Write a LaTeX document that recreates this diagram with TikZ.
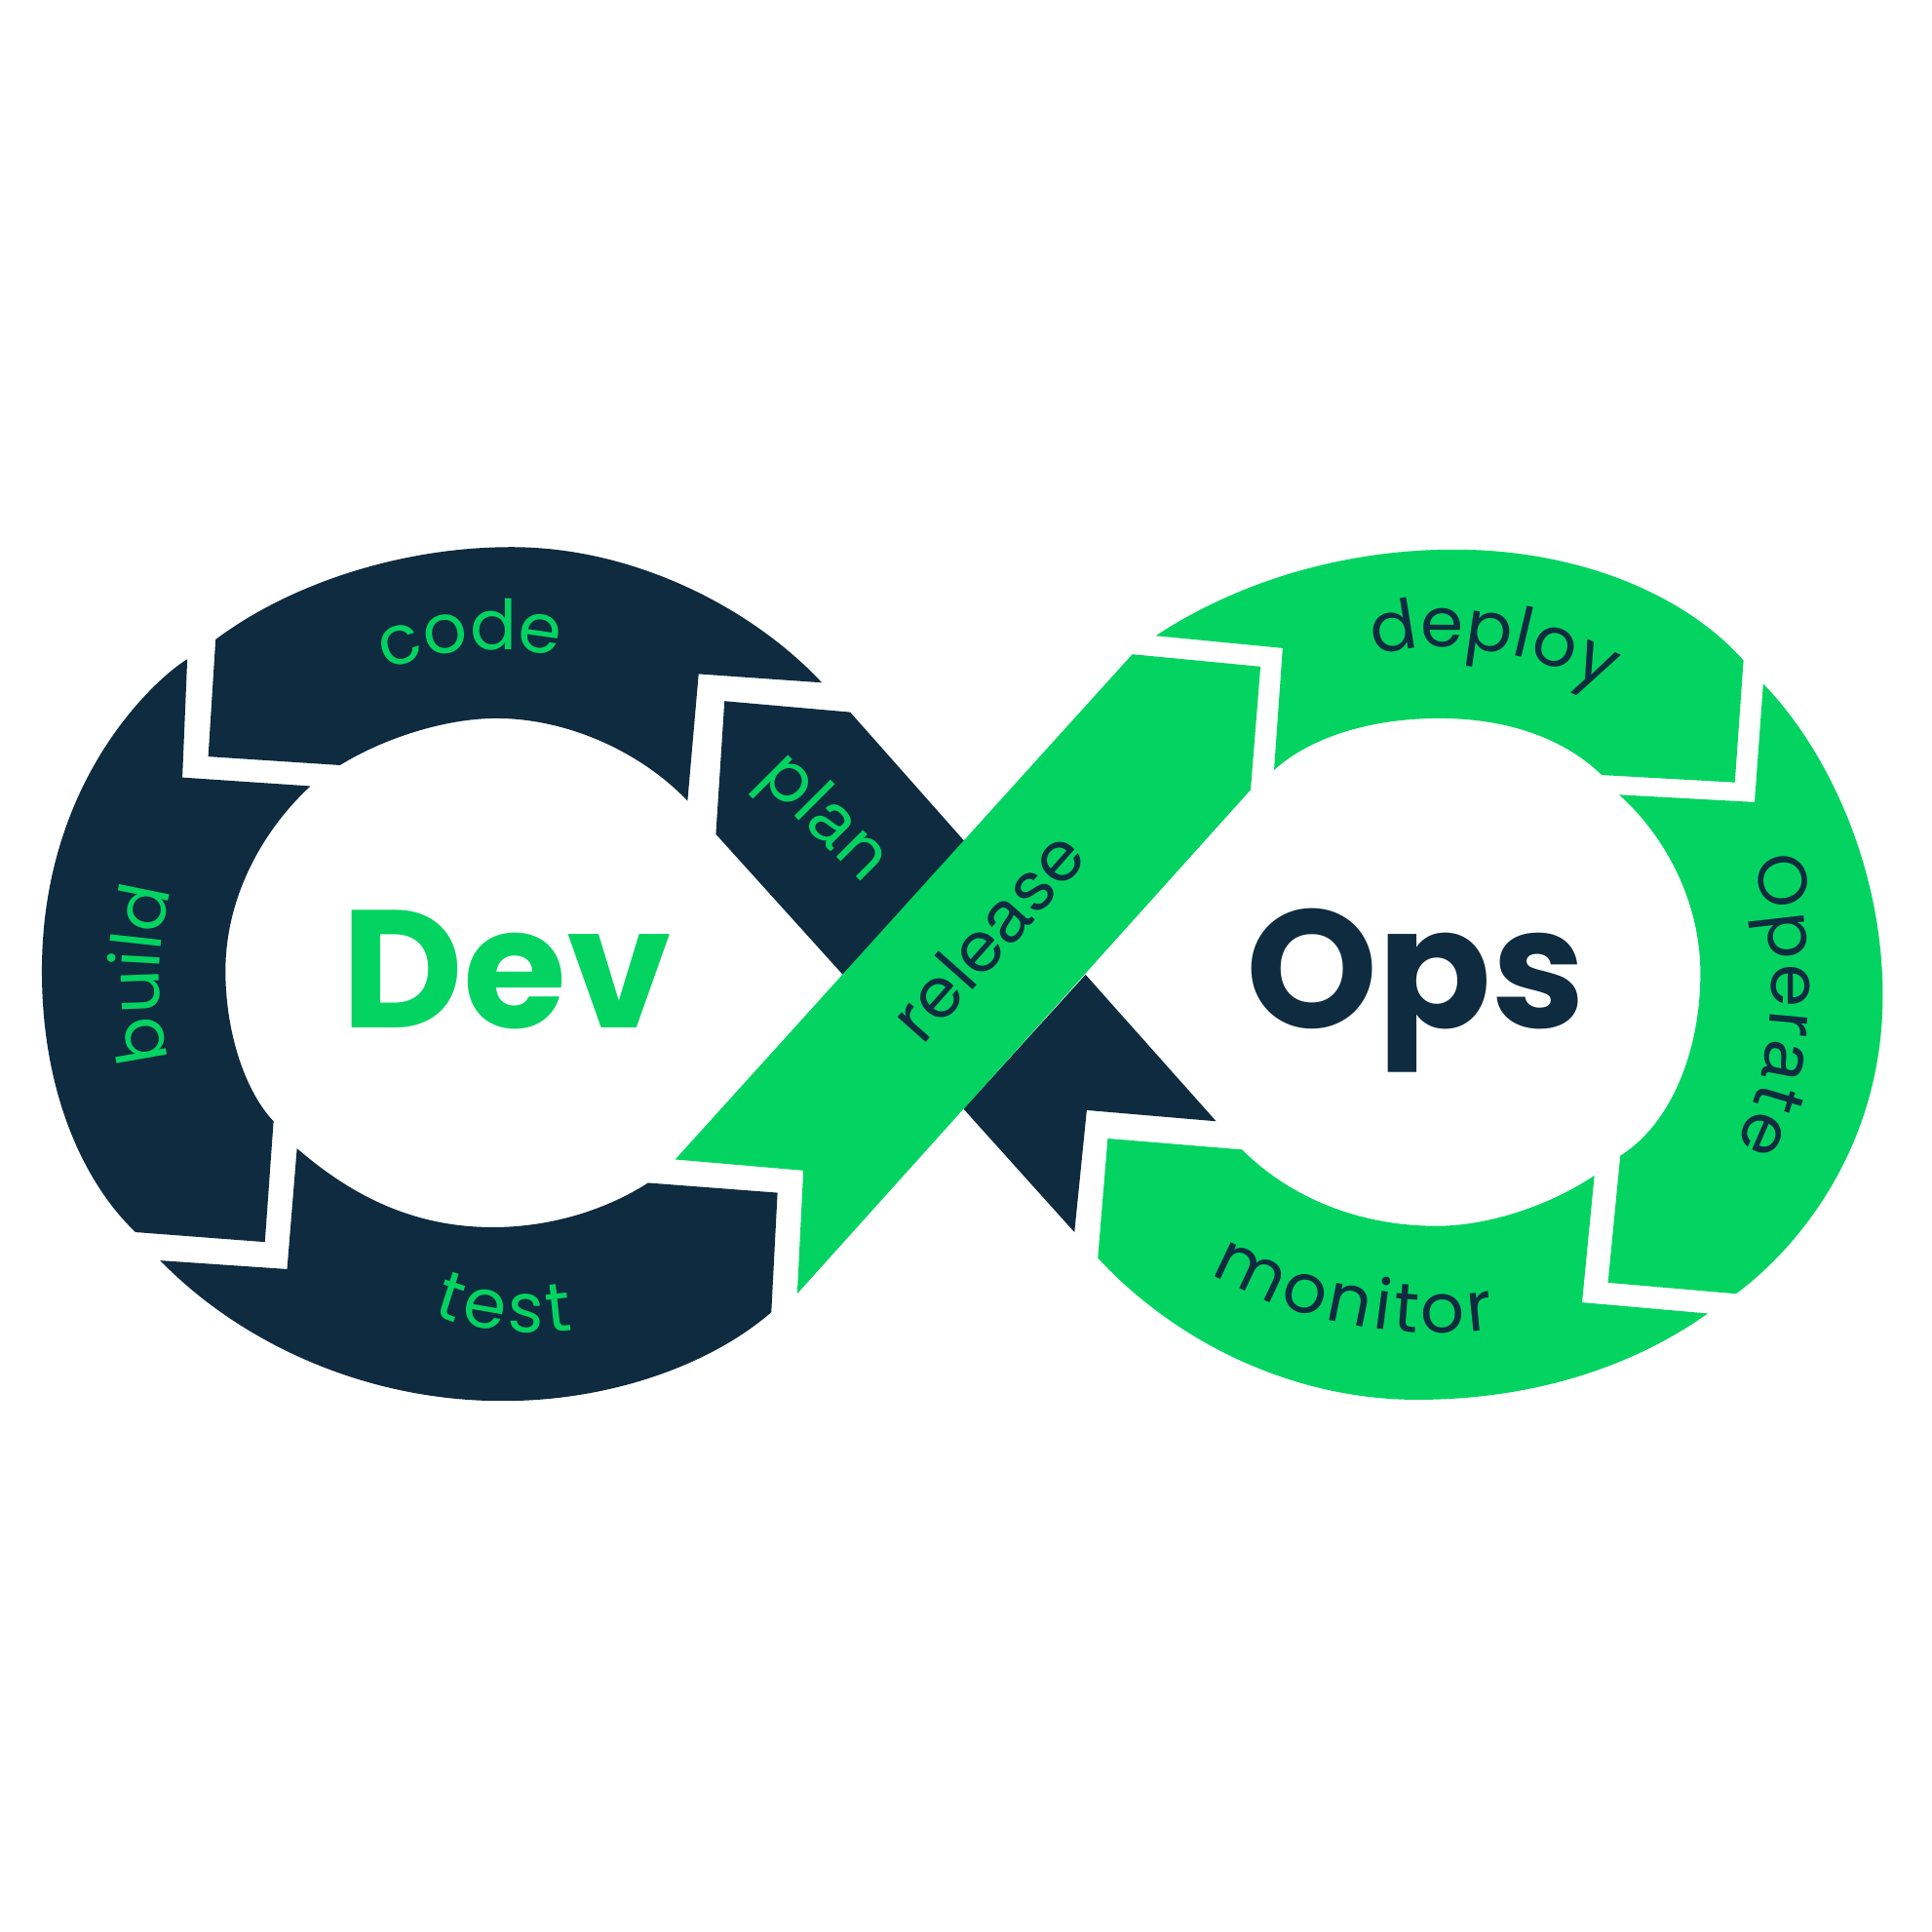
\documentclass[tikz,border=0pt]{standalone}
\usepackage{fontspec}
\setmainfont{Poppins}
\newfontfamily\stepafamily{TeX Gyre Heros}
\usetikzlibrary{decorations.text}
\definecolor{devblue}{RGB}{14,43,64}
\definecolor{opsgreen}{RGB}{3,212,97}
\newcommand{\stepfont}{\fontsize{28}{28}\selectfont}
\newcommand{\stepafont}{\stepafamily\fontsize{29.5}{29.5}\selectfont}
\tikzset{
  every picture/.style={line width=0.75pt},
  devstep/.style={fill=devblue},
  opsstep/.style={fill=opsgreen},
  bigword/.style={anchor=base,font=\bfseries\fontsize{68}{68}\selectfont},
  greenword/.style={decorate,decoration={text along path,text align=fit to path,text color=opsgreen,text={|\stepfont|#1}}},
  blueword/.style={decorate,decoration={text along path,text align=fit to path,text color=devblue,text={|\stepfont|#1}}}
}
\begin{document}
\begin{tikzpicture}[x=0.5pt,y=0.5pt,yscale=-1,xscale=1]
\path [use as bounding box] (0,0) rectangle (1568,1568);

%Shape: code
\fill [devstep] (175,519) .. controls (235,474) and (325,444) .. (415,444) .. controls (520,444) and (615,498) .. (667,554) -- (567,547) -- (558,650) .. controls (520,610) and (460,583) .. (403,583) .. controls (360,583) and (310,600) .. (276,621) -- (169,614) -- cycle ;
%Shape: build
\fill [devstep] (152,535) -- (148,631) -- (252,638) .. controls (215,672) and (183,726) .. (183,788) .. controls (183,840) and (200,887) .. (222,910) -- (215,1008) -- (110,1000) .. controls (70,962) and (34,890) .. (34,788) .. controls (34,630) and (130,548) .. (152,535) -- cycle ;
%Shape: test
\fill [devstep] (130,1023) -- (233,1030) -- (241,932) .. controls (285,970) and (335,996) .. (400,996) .. controls (445,996) and (490,983) .. (526,960) -- (631,968) -- (626,1065) .. controls (580,1105) and (500,1137) .. (408,1137) .. controls (290,1137) and (190,1085) .. (130,1023) -- cycle ;
%Shape: plan
\fill [devstep] (588,569) -- (690,578) -- (783,683) -- (684,791) -- (581,677) -- cycle ;
%Shape: tail under the band
\fill [devstep] (881,791) -- (987,910) -- (882,901) -- (872,1000) -- (782,900) -- cycle ;

%Shape: release
\fill [opsstep] (919,531) -- (1023,541) -- (1015,641) -- (647,1050) -- (652,950) -- (548,941) -- cycle ;
%Shape: deploy
\fill [opsstep] (938,516) -- (1041,526) -- (1034,625) .. controls (1065,597) and (1115,583) .. (1168,583) .. controls (1225,583) and (1270,600) .. (1300,629) -- (1408,635) -- (1415,536) .. controls (1370,485) and (1285,446) .. (1180,446) .. controls (1085,446) and (1000,475) .. (938,516) -- cycle ;
%Shape: operate
\fill [opsstep] (1431,555) -- (1424,651) -- (1314,645) .. controls (1350,677) and (1380,730) .. (1380,790) .. controls (1380,855) and (1355,913) .. (1315,938) -- (1305,1041) -- (1409,1050) .. controls (1460,1012) and (1528,930) .. (1528,808) .. controls (1528,700) and (1480,605) .. (1431,555) -- cycle ;
%Shape: monitor
\fill [opsstep] (899,924) -- (1008,933) .. controls (1045,970) and (1100,995) .. (1166,995) .. controls (1210,995) and (1260,977) .. (1294,954) -- (1284,1057) -- (1386,1066) .. controls (1330,1106) and (1250,1136) .. (1150,1136) .. controls (1050,1136) and (955,1090) .. (891,1021) -- cycle ;

% Text Node
\draw (411,834) node (dev) [bigword,text=opsgreen] {Dev};
% Text Node
\draw (1149,834) node (ops) [bigword,text=devblue] {Ops};

% Text on curves
\path [greenword={code}] (314,545) .. controls (350,528) and (400,522) .. (453,533) ;
\path [greenword={pl|\stepafont|a|\stepfont|n}] (615,632) -- (701,718) ;
\path [greenword={build}] (137,860) .. controls (126,815) and (126,770) .. (139,722) ;
\path [greenword={test}] (351,1067) .. controls (385,1080) and (430,1085) .. (465,1079) ;
\path [blueword={rele|\stepafont|a|\stepfont|se}] (749,849) -- (884,697) ;
\path [blueword={deploy}] (1115,532) .. controls (1165,518) and (1240,525) .. (1303,560) ;
\path [blueword={Oper|\stepafont|a|\stepfont|te}] (1422,698) .. controls (1445,770) and (1445,860) .. (1408,930) ;
\path [blueword={monitor}] (983,1033) .. controls (1040,1068) and (1130,1090) .. (1213,1079) ;

\end{tikzpicture}
\end{document}
